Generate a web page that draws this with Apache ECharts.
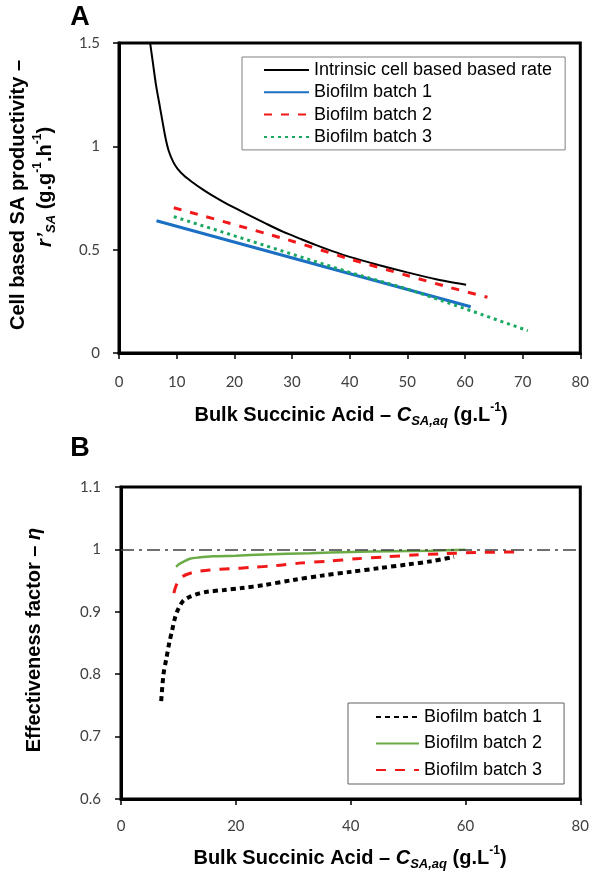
<!DOCTYPE html>
<html>
<head>
<meta charset="utf-8">
<script src="https://cdn.jsdelivr.net/npm/echarts@6/dist/echarts.min.js"></script>
<style>
html,body{margin:0;padding:0;background:#fff;}
#c{width:592px;height:875px;}
</style>
</head>
<body>
<div id="c"></div>
<script>
// ---------- Panel A data ----------
const aXTicks = [0, 10, 20, 30, 40, 50, 60, 70, 80];
const aYTicks = [0, 0.5, 1, 1.5];
const intrinsicX = [5.4, 5.9, 6.4, 7.1, 8.0, 8.6, 9.4, 10.2, 11.4, 12.8, 14.3, 16, 18, 20, 22.7, 25.5, 28.5, 31.5, 34.2, 37, 40, 45, 50, 55, 60.2];
const intrinsicY = [1.5, 1.4, 1.3, 1.19, 1.05, 0.98, 0.925, 0.89, 0.855, 0.825, 0.795, 0.765, 0.733, 0.703, 0.665, 0.626, 0.586, 0.552, 0.522, 0.493, 0.465, 0.426, 0.39, 0.357, 0.33];
const aBatch1X = [6.5, 38.8, 61];
const aBatch1Y = [0.64, 0.393, 0.224];
const aBatch2X = [9.5, 29, 40, 50, 57, 63.9];
const aBatch2Y = [0.703, 0.55, 0.455, 0.375, 0.32, 0.27];
const aBatch3X = [9.5, 40, 50, 61, 70.9];
const aBatch3Y = [0.66, 0.39, 0.31, 0.205, 0.108];

// ---------- Panel B data ----------
const bXTicks = [0, 20, 40, 60, 80];
const bYTicks = [0.6, 0.7, 0.8, 0.9, 1, 1.1];
const bBatch1X = [7, 7.4, 7.9, 8.4, 8.9, 9.4, 10, 10.8, 12, 13.5, 15, 18, 21, 25, 30, 35, 40, 45, 50, 54, 58];
const bBatch1Y = [0.757, 0.80, 0.825, 0.85, 0.87, 0.89, 0.905, 0.917, 0.924, 0.929, 0.932, 0.935, 0.938, 0.943, 0.951, 0.958, 0.964, 0.970, 0.976, 0.981, 0.988];
const bBatch2X = [9.6, 10.2, 11, 12, 13.5, 16, 20, 25, 33, 40, 47, 54, 60];
const bBatch2Y = [0.972, 0.977, 0.981, 0.985, 0.987, 0.989, 0.990, 0.992, 0.994, 0.996, 0.997, 0.998, 0.9995];
const bBatch3X = [9.2, 9.6, 10.2, 11, 11.8, 13, 15.5, 19, 22.5, 27, 31, 36, 41, 46, 51, 56, 62, 69];
const bBatch3Y = [0.93, 0.942, 0.952, 0.958, 0.961, 0.964, 0.967, 0.969, 0.971, 0.974, 0.978, 0.981, 0.985, 0.988, 0.991, 0.993, 0.995, 0.996];
const bReference = 1;

const namesA = ['Intrinsic cell based based rate', 'Biofilm batch 1', 'Biofilm batch 2', 'Biofilm batch 3'];
const namesB = ['Biofilm batch 1 ', 'Biofilm batch 2 ', 'Biofilm batch 3 '];

function pairs(xs, ys) { return xs.map((x, i) => [x, ys[i]]); }

const TF = "'Liberation Sans', Arial, sans-serif";
const tickFont = "Lato, 'Open Sans', sans-serif";

const rich = {
  b: { fontFamily: TF, fontWeight: 'bold', fontSize: 20, lineHeight: 26, color: '#000' },
  bi: { fontFamily: TF, fontWeight: 'bold', fontStyle: 'italic', fontSize: 20, lineHeight: 26, color: '#000' },
  sub: { fontFamily: TF, fontWeight: 'bold', fontStyle: 'italic', fontSize: 13, lineHeight: 14, verticalAlign: 'bottom', color: '#000' },
  sup: { fontFamily: TF, fontWeight: 'bold', fontSize: 12, lineHeight: 14, verticalAlign: 'top', color: '#000' }
};

function axisCommon(min, max, interval, margin) {
  return {
    min: min, max: max, interval: interval,
    axisLine: { show: true, lineStyle: { color: '#000', width: 3 } },
    axisTick: { show: true, inside: false, length: 6, lineStyle: { color: '#000', width: 1.5 } },
    axisLabel: { margin: margin, fontFamily: tickFont, fontSize: 15, color: '#404040' },
    splitLine: { show: false }
  };
}

const chart = echarts.init(document.getElementById('c'), null, { renderer: 'canvas' });

const legendCommon = {
  orient: 'vertical', itemHeight: 14,
  backgroundColor: '#fff', selectedMode: false,
  itemStyle: { opacity: 0, borderWidth: 0 },
  textStyle: { fontFamily: TF, fontSize: 18, lineHeight: 18, color: '#000' }
};

const option = {
  backgroundColor: '#fff',
  animation: false,
  grid: [
    { left: 119, top: 43, right: 11, bottom: 522, show: true, borderColor: '#000', borderWidth: 3 },
    { left: 121, top: 487, right: 11, bottom: 76, show: true, borderColor: '#000', borderWidth: 3 }
  ],
  xAxis: [
    Object.assign({ type: 'value', gridIndex: 0 }, axisCommon(aXTicks[0], aXTicks[aXTicks.length - 1], aXTicks[1] - aXTicks[0], 22)),
    Object.assign({ type: 'value', gridIndex: 1 }, axisCommon(bXTicks[0], bXTicks[bXTicks.length - 1], bXTicks[1] - bXTicks[0], 20))
  ],
  yAxis: [
    Object.assign({ type: 'value', gridIndex: 0 }, axisCommon(aYTicks[0], aYTicks[aYTicks.length - 1], aYTicks[1] - aYTicks[0], 19)),
    Object.assign({ type: 'value', gridIndex: 1 }, axisCommon(bYTicks[0], bYTicks[bYTicks.length - 1], 0.1, 20))
  ],
  legend: [
    Object.assign({}, legendCommon, {
      data: namesA, left: 242, top: 57,
      padding: [4, 13, 4, 21], itemGap: 4.3, itemWidth: 45,
      borderColor: '#808080', borderWidth: 1
    }),
    Object.assign({}, legendCommon, {
      data: namesB, left: 348, top: 703,
      padding: [5, 22, 5, 27], itemGap: 8.5, itemWidth: 43,
      borderColor: '#606060', borderWidth: 1,
      formatter: function (n) { return n.trim(); }
    })
  ],
  series: [
    { name: namesA[0], type: 'line', xAxisIndex: 0, yAxisIndex: 0, data: pairs(intrinsicX, intrinsicY), symbol: 'none', smooth: 0.25, clip: true,
      lineStyle: { color: '#000', width: 2 }, itemStyle: { color: '#000' } },
    { name: namesA[1], type: 'line', xAxisIndex: 0, yAxisIndex: 0, data: pairs(aBatch1X, aBatch1Y), symbol: 'none',
      lineStyle: { color: '#1c70c4', width: 3 }, itemStyle: { color: '#1c70c4' } },
    { name: namesA[2], type: 'line', xAxisIndex: 0, yAxisIndex: 0, data: pairs(aBatch2X, aBatch2Y), symbol: 'none', smooth: 0.3,
      lineStyle: { color: '#f01818', width: 3, type: [8, 9] }, itemStyle: { color: '#f01818' } },
    { name: namesA[3], type: 'line', xAxisIndex: 0, yAxisIndex: 0, data: pairs(aBatch3X, aBatch3Y), symbol: 'none',
      lineStyle: { color: '#18a860', width: 3, type: [3, 4] }, itemStyle: { color: '#18a860' } },

    { name: namesB[0], type: 'line', xAxisIndex: 1, yAxisIndex: 1, data: pairs(bBatch1X, bBatch1Y), symbol: 'none', smooth: 0.3,
      lineStyle: { color: '#000', width: 4, type: [5, 4] }, itemStyle: { color: '#000' } },
    { name: namesB[1], type: 'line', xAxisIndex: 1, yAxisIndex: 1, data: pairs(bBatch2X, bBatch2Y), symbol: 'none', smooth: 0.3,
      lineStyle: { color: '#6aab45', width: 2.5 }, itemStyle: { color: '#6aab45' },
      markLine: { silent: true, symbol: ['none', 'none'], label: { show: false },
        lineStyle: { color: '#404040', width: 1.5, type: [13, 5, 3, 5] },
        data: [{ yAxis: bReference }] } },
    { name: namesB[2], type: 'line', xAxisIndex: 1, yAxisIndex: 1, data: pairs(bBatch3X, bBatch3Y), symbol: 'none', smooth: 0.3,
      lineStyle: { color: '#f01818', width: 3, type: [10, 9] }, itemStyle: { color: '#f01818' } }
  ],
  graphic: [
    { type: 'text', x: 80, y: 18, style: { text: 'A', font: "bold 27px " + TF, fill: '#000', textAlign: 'center', textVerticalAlign: 'middle' } },
    { type: 'text', x: 80, y: 449, style: { text: 'B', font: "bold 27px " + TF, fill: '#000', textAlign: 'center', textVerticalAlign: 'middle' } },
    { type: 'text', x: 351, y: 415, style: { text: '{b|Bulk Succinic Acid – }{bi|C}{sub|SA,aq}{b| (g.L}{sup|-1}{b|)}', rich: rich, textAlign: 'center', textVerticalAlign: 'middle' } },
    { type: 'text', x: 350, y: 858, style: { text: '{b|Bulk Succinic Acid – }{bi|C}{sub|SA,aq}{b| (g.L}{sup|-1}{b|)}', rich: rich, textAlign: 'center', textVerticalAlign: 'middle' } },
    { type: 'text', x: 18, y: 195, rotation: Math.PI / 2, style: { text: '{b|Cell based SA productivity –}', rich: rich, textAlign: 'center', textVerticalAlign: 'middle' } },
    { type: 'text', x: 45, y: 187, rotation: Math.PI / 2, style: { text: '{bi|r’}{sub|SA}{b| (g.g}{sup|-1}{b|.h}{sup|-1}{b|)}', rich: rich, textAlign: 'center', textVerticalAlign: 'middle' } },
    { type: 'text', x: 34, y: 640, rotation: Math.PI / 2, style: { text: '{b|Effectiveness factor – }{bi|η}', rich: rich, textAlign: 'center', textVerticalAlign: 'middle' } }
  ]
};
chart.setOption(option);
</script>
</body>
</html>
